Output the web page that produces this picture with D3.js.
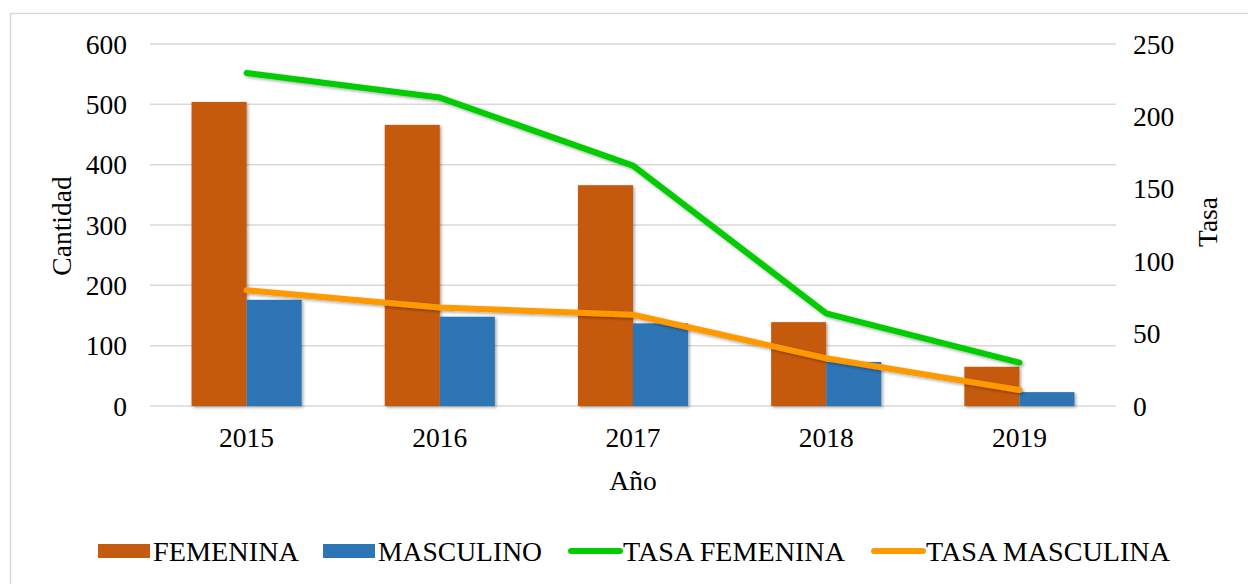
<!DOCTYPE html>
<html>
<head>
    <meta charset="utf-8">
    <script src="https://cdn.jsdelivr.net/npm/d3@7"></script>
    <style>
        * { margin: 0; padding: 0; }
        body { background: #fff; overflow: hidden; }
        text { font-family: "Liberation Serif", "Times New Roman", serif; fill: #000; }
    </style>
</head>
<body>
<div id="chart"></div>
<script>
    // data
    const years = ['2015', '2016', '2017', '2018', '2019']
    const femenina = [504, 466, 366, 139, 65]
    const masculino = [176, 148, 137, 73, 23]
    const tasaFemenina = [230, 213, 166, 64, 30]
    const tasaMasculina = [80, 68, 63, 33, 11]
    const leftTicks = [0, 100, 200, 300, 400, 500, 600]
    const rightTicks = [0, 50, 100, 150, 200, 250]

    const W = 1248, H = 584
    const plot = { left: 150, right: 1116, top: 44, bottom: 406 }
    const fs = 27.5

    const svg = d3.select('#chart').append('svg')
        .attr('width', W).attr('height', H)

    const defs = svg.append('defs')
    defs.append('filter').attr('id', 'shadow')
        .attr('x', '-20%').attr('y', '-20%').attr('width', '140%').attr('height', '140%')
        .append('feDropShadow')
        .attr('dx', 1.5).attr('dy', 1.5).attr('stdDeviation', 1.5)
        .attr('flood-color', '#000').attr('flood-opacity', 0.35)

    // outer frame
    svg.append('rect')
        .attr('x', 10.5).attr('y', 13.5).attr('width', W).attr('height', H)
        .attr('fill', 'none').attr('stroke', '#d9d9d9').attr('stroke-width', 1.5)

    const x0 = d3.scaleBand().domain(years).range([plot.left, plot.right])
        .paddingInner(0.43).paddingOuter(0.215)
    const x1 = d3.scaleBand().domain(['fem', 'masc']).range([0, x0.bandwidth()])
    const yL = d3.scaleLinear().domain([0, 600]).range([plot.bottom, plot.top])
    const yR = d3.scaleLinear().domain([0, 250]).range([plot.bottom, plot.top])

    // gridlines
    svg.append('g').selectAll('line').data(leftTicks).join('line')
        .attr('x1', plot.left).attr('x2', plot.right)
        .attr('y1', d => yL(d)).attr('y2', d => yL(d))
        .attr('stroke', '#d9d9d9').attr('stroke-width', 1.5)

    // left axis labels
    svg.append('g').selectAll('text').data(leftTicks).join('text')
        .attr('x', 127).attr('y', d => yL(d)).attr('dy', '0.35em')
        .attr('text-anchor', 'end').attr('font-size', fs)
        .text(d => d)

    // right axis labels
    svg.append('g').selectAll('text').data(rightTicks).join('text')
        .attr('x', 1133).attr('y', d => yR(d)).attr('dy', '0.35em')
        .attr('text-anchor', 'start').attr('font-size', fs)
        .text(d => d)

    // bars
    const rows = years.map((y, i) => ({ year: y, fem: femenina[i], masc: masculino[i] }))
    const barColor = { fem: '#c55a11', masc: '#2e75b6' }
    const groups = svg.append('g').selectAll('g').data(rows).join('g')
        .attr('transform', d => `translate(${x0(d.year)},0)`)
    groups.selectAll('rect').data(d => ['fem', 'masc'].map(k => ({ k, v: d[k] }))).join('rect')
        .attr('x', d => x1(d.k)).attr('width', x1.bandwidth())
        .attr('y', d => yL(d.v)).attr('height', d => yL(0) - yL(d.v))
        .attr('fill', d => barColor[d.k])
        .attr('filter', 'url(#shadow)')

    // x labels
    svg.append('g').selectAll('text').data(years).join('text')
        .attr('x', d => x0(d) + x0.bandwidth() / 2).attr('y', 447)
        .attr('text-anchor', 'middle').attr('font-size', fs)
        .text(d => d)

    // lines on right axis
    const line = d3.line()
        .x((d, i) => x0(years[i]) + x0.bandwidth() / 2)
        .y(d => yR(d))
    const lineSeries = [
        { vals: tasaFemenina, color: '#00cc00' },
        { vals: tasaMasculina, color: '#ff9900' }
    ]
    svg.append('g').selectAll('path').data(lineSeries).join('path')
        .attr('d', d => line(d.vals))
        .attr('fill', 'none').attr('stroke', d => d.color)
        .attr('stroke-width', 6).attr('stroke-linecap', 'round').attr('stroke-linejoin', 'round')
        .attr('filter', 'url(#shadow)')

    // axis titles
    svg.append('text').attr('x', 633).attr('y', 490)
        .attr('text-anchor', 'middle').attr('font-size', fs).text('Año')
    svg.append('text').attr('transform', 'translate(71,226) rotate(-90)')
        .attr('text-anchor', 'middle').attr('font-size', fs).text('Cantidad')
    svg.append('text').attr('transform', 'translate(1217,222) rotate(-90)')
        .attr('text-anchor', 'middle').attr('font-size', fs).text('Tasa')

    // legend
    const legend = [
        { name: 'FEMENINA', color: '#c55a11', type: 'rect', x: 98 },
        { name: 'MASCULINO', color: '#2e75b6', type: 'rect', x: 323 },
        { name: 'TASA FEMENINA', color: '#00cc00', type: 'line', x: 568 },
        { name: 'TASA MASCULINA', color: '#ff9900', type: 'line', x: 871 }
    ]
    const ly = 551
    legend.forEach(it => {
        const lx = it.x
        if (it.type == 'rect') {
            svg.append('rect').attr('x', lx).attr('y', ly - 7).attr('width', 52).attr('height', 14)
                .attr('fill', it.color)
        } else {
            svg.append('line').attr('x1', lx + 3).attr('x2', lx + 52).attr('y1', ly).attr('y2', ly)
                .attr('stroke', it.color).attr('stroke-width', 6).attr('stroke-linecap', 'round')
        }
        const t = svg.append('text').attr('x', lx + 55).attr('y', ly).attr('dy', '0.35em')
            .attr('font-size', 28).text(it.name)
        // stretch text a little to match the reference width
        const want = { 'FEMENINA': 146, 'MASCULINO': 164, 'TASA FEMENINA': 222, 'TASA MASCULINA': 244 }[it.name]
        t.attr('textLength', want).attr('lengthAdjust', 'spacingAndGlyphs')
    })
</script>
</body>
</html>
